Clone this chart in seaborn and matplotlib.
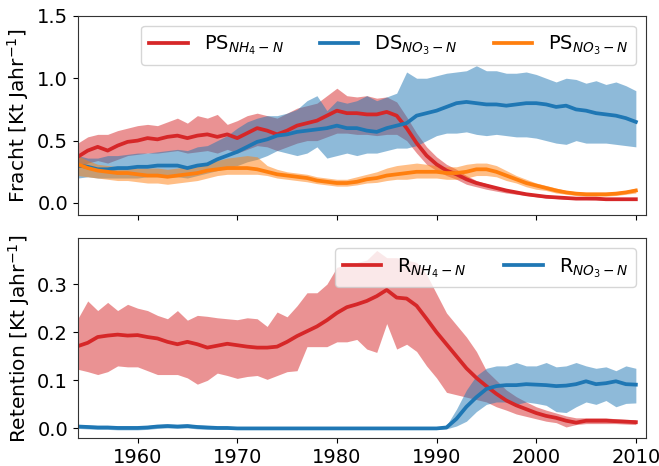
import numpy as np
import pandas as pd
import matplotlib
matplotlib.use("Agg")
import matplotlib.pyplot as plt
import seaborn as sns

years = list(range(1954, 2011))

# ---- top panel: Fracht ----
ps_nh4 = [0.37, 0.42, 0.45, 0.42, 0.46, 0.49, 0.50, 0.52, 0.51, 0.53,
          0.54, 0.52, 0.54, 0.55, 0.53, 0.55, 0.52, 0.56, 0.60, 0.58,
          0.55, 0.58, 0.62, 0.64, 0.66, 0.70, 0.74, 0.72, 0.72, 0.71,
          0.71, 0.73, 0.70, 0.60, 0.48, 0.38, 0.31, 0.26, 0.23, 0.19,
          0.16, 0.14, 0.12, 0.10, 0.085, 0.07, 0.06, 0.05, 0.045, 0.04,
          0.035, 0.035, 0.035, 0.03, 0.03, 0.03, 0.03]
ps_nh4_hi = [0.48, 0.53, 0.55, 0.55, 0.58, 0.60, 0.62, 0.63, 0.62, 0.65,
             0.68, 0.64, 0.70, 0.68, 0.71, 0.63, 0.66, 0.70, 0.72, 0.70,
             0.68, 0.72, 0.76, 0.78, 0.80, 0.86, 0.92, 0.86, 0.85, 0.86,
             0.84, 0.85, 0.81, 0.69, 0.56, 0.45, 0.37, 0.31, 0.27, 0.22,
             0.18, 0.155, 0.13, 0.11, 0.095, 0.08, 0.07, 0.06, 0.055, 0.05,
             0.045, 0.045, 0.045, 0.04, 0.04, 0.04, 0.04]
ps_nh4_lo = [0.28, 0.32, 0.34, 0.32, 0.35, 0.38, 0.39, 0.40, 0.40, 0.41,
             0.42, 0.40, 0.41, 0.42, 0.40, 0.43, 0.40, 0.43, 0.46, 0.45,
             0.42, 0.45, 0.48, 0.50, 0.50, 0.53, 0.56, 0.56, 0.55, 0.55,
             0.54, 0.55, 0.55, 0.50, 0.40, 0.31, 0.26, 0.22, 0.19, 0.15,
             0.13, 0.11, 0.095, 0.08, 0.07, 0.06, 0.05, 0.04, 0.035, 0.03,
             0.028, 0.028, 0.025, 0.022, 0.022, 0.022, 0.022]

ds_no3 = [0.30, 0.29, 0.27, 0.27, 0.28, 0.28, 0.29, 0.29, 0.30, 0.30,
          0.30, 0.28, 0.30, 0.31, 0.35, 0.38, 0.41, 0.45, 0.49, 0.51,
          0.54, 0.55, 0.57, 0.58, 0.59, 0.60, 0.62, 0.60, 0.60, 0.58,
          0.57, 0.60, 0.62, 0.64, 0.70, 0.72, 0.74, 0.77, 0.80, 0.81,
          0.80, 0.79, 0.79, 0.78, 0.79, 0.80, 0.80, 0.79, 0.77, 0.78,
          0.75, 0.74, 0.72, 0.71, 0.70, 0.68, 0.65]
ds_no3_hi = [0.38, 0.36, 0.36, 0.38, 0.38, 0.39, 0.40, 0.40, 0.41, 0.42,
             0.43, 0.42, 0.45, 0.46, 0.50, 0.54, 0.60, 0.65, 0.68, 0.70,
             0.70, 0.72, 0.75, 0.82, 0.86, 0.74, 0.82, 0.80, 0.82, 0.86,
             0.82, 0.85, 0.88, 1.05, 1.00, 1.00, 1.02, 1.04, 1.05, 1.06,
             1.10, 1.06, 1.06, 1.04, 1.04, 1.05, 1.03, 1.00, 0.97, 1.00,
             0.99, 0.96, 0.98, 0.95, 0.97, 0.94, 0.90]
ds_no3_lo = [0.20, 0.21, 0.20, 0.20, 0.20, 0.20, 0.20, 0.21, 0.21, 0.21,
             0.21, 0.20, 0.22, 0.24, 0.26, 0.28, 0.30, 0.33, 0.35, 0.38,
             0.42, 0.40, 0.38, 0.40, 0.45, 0.36, 0.38, 0.40, 0.38, 0.40,
             0.40, 0.42, 0.44, 0.44, 0.46, 0.50, 0.54, 0.56, 0.56, 0.57,
             0.55, 0.54, 0.55, 0.54, 0.53, 0.53, 0.52, 0.50, 0.48, 0.47,
             0.50, 0.48, 0.48, 0.48, 0.47, 0.46, 0.45]

ps_no3 = [0.31, 0.28, 0.26, 0.25, 0.24, 0.24, 0.23, 0.22, 0.22, 0.21,
          0.22, 0.23, 0.24, 0.26, 0.27, 0.28, 0.28, 0.28, 0.27, 0.25,
          0.23, 0.22, 0.21, 0.20, 0.18, 0.17, 0.16, 0.16, 0.17, 0.19,
          0.20, 0.22, 0.23, 0.24, 0.25, 0.25, 0.25, 0.24, 0.24, 0.25,
          0.27, 0.27, 0.25, 0.22, 0.19, 0.16, 0.14, 0.12, 0.10, 0.085,
          0.075, 0.07, 0.07, 0.07, 0.075, 0.085, 0.10]
ps_no3_hi = [0.38, 0.34, 0.31, 0.30, 0.29, 0.29, 0.28, 0.28, 0.28, 0.27,
             0.28, 0.29, 0.30, 0.32, 0.34, 0.36, 0.37, 0.38, 0.37, 0.30,
             0.27, 0.25, 0.24, 0.23, 0.21, 0.20, 0.19, 0.19, 0.21, 0.23,
             0.25, 0.28, 0.30, 0.31, 0.32, 0.31, 0.30, 0.29, 0.29, 0.31,
             0.32, 0.32, 0.30, 0.26, 0.22, 0.19, 0.16, 0.14, 0.12, 0.10,
             0.09, 0.085, 0.085, 0.085, 0.09, 0.10, 0.12]
ps_no3_lo = [0.22, 0.21, 0.20, 0.19, 0.18, 0.18, 0.17, 0.16, 0.16, 0.15,
             0.16, 0.17, 0.18, 0.20, 0.22, 0.23, 0.23, 0.23, 0.23, 0.22,
             0.20, 0.19, 0.18, 0.17, 0.155, 0.145, 0.135, 0.135, 0.145, 0.16,
             0.165, 0.18, 0.19, 0.19, 0.20, 0.20, 0.20, 0.19, 0.19, 0.20,
             0.22, 0.22, 0.21, 0.18, 0.16, 0.13, 0.11, 0.10, 0.08, 0.07,
             0.06, 0.055, 0.055, 0.055, 0.06, 0.07, 0.08]

# ---- bottom panel: Retention ----
r_nh4 = [0.171, 0.178, 0.190, 0.193, 0.195, 0.193, 0.194, 0.190, 0.187, 0.180,
         0.175, 0.180, 0.175, 0.168, 0.172, 0.176, 0.173, 0.170, 0.168, 0.168,
         0.170, 0.180, 0.192, 0.202, 0.212, 0.225, 0.240, 0.252, 0.258, 0.265,
         0.275, 0.288, 0.272, 0.270, 0.255, 0.228, 0.200, 0.175, 0.150, 0.125,
         0.105, 0.088, 0.072, 0.058, 0.048, 0.040, 0.032, 0.026, 0.022, 0.016,
         0.012, 0.016, 0.016, 0.016, 0.015, 0.014, 0.013]
r_nh4_hi = [0.228, 0.265, 0.245, 0.262, 0.245, 0.258, 0.250, 0.245, 0.235, 0.228,
            0.245, 0.225, 0.235, 0.233, 0.230, 0.228, 0.226, 0.230, 0.228, 0.212,
            0.242, 0.232, 0.255, 0.282, 0.282, 0.300, 0.335, 0.340, 0.345, 0.350,
            0.370, 0.355, 0.355, 0.350, 0.345, 0.320, 0.280, 0.240, 0.215, 0.190,
            0.160, 0.120, 0.100, 0.080, 0.066, 0.055, 0.045, 0.038, 0.032, 0.026,
            0.022, 0.022, 0.022, 0.022, 0.020, 0.019, 0.018]
r_nh4_lo = [0.123, 0.118, 0.112, 0.118, 0.130, 0.128, 0.128, 0.120, 0.112, 0.112,
            0.112, 0.105, 0.092, 0.100, 0.115, 0.110, 0.104, 0.108, 0.110, 0.102,
            0.110, 0.118, 0.120, 0.170, 0.170, 0.170, 0.180, 0.180, 0.185, 0.165,
            0.158, 0.218, 0.165, 0.175, 0.160, 0.130, 0.105, 0.075, 0.070, 0.065,
            0.060, 0.055, 0.045, 0.038, 0.030, 0.025, 0.020, 0.015, 0.012, 0.003,
            0.008, 0.010, 0.010, 0.010, 0.010, 0.009, 0.008]

r_no3 = [0.004, 0.003, 0.002, 0.002, 0.001, 0.001, 0.001, 0.002, 0.004, 0.005,
         0.004, 0.005, 0.003, 0.002, 0.001, 0.001, 0.000, 0.000, 0.000, 0.000,
         0.000, 0.000, 0.000, 0.000, 0.000, 0.000, 0.000, 0.000, 0.000, 0.000,
         0.000, 0.000, 0.000, 0.000, 0.000, 0.000, 0.000, 0.002, 0.020, 0.045,
         0.065, 0.082, 0.088, 0.090, 0.090, 0.092, 0.091, 0.090, 0.088, 0.089,
         0.092, 0.098, 0.092, 0.094, 0.098, 0.092, 0.091]
r_no3_hi = [0.008, 0.007, 0.006, 0.006, 0.005, 0.005, 0.005, 0.006, 0.008, 0.009,
            0.008, 0.009, 0.007, 0.006, 0.004, 0.003, 0.002, 0.002, 0.002, 0.002,
            0.002, 0.002, 0.002, 0.002, 0.002, 0.002, 0.002, 0.002, 0.002, 0.002,
            0.002, 0.002, 0.002, 0.002, 0.002, 0.002, 0.002, 0.006, 0.040, 0.080,
            0.110, 0.125, 0.130, 0.130, 0.137, 0.130, 0.130, 0.137, 0.128, 0.130,
            0.137, 0.130, 0.125, 0.128, 0.120, 0.130, 0.125]
r_no3_lo = [0.000, -0.001, -0.002, -0.002, -0.003, -0.003, -0.003, -0.002, 0.000, 0.001,
            0.000, 0.001, -0.001, -0.002, -0.002, -0.002, -0.002, -0.002, -0.002, -0.002,
            -0.002, -0.002, -0.002, -0.002, -0.002, -0.002, -0.002, -0.002, -0.002, -0.002,
            -0.002, -0.002, -0.002, -0.002, -0.002, -0.002, -0.002, -0.001, 0.005, 0.015,
            0.035, 0.050, 0.055, 0.055, 0.050, 0.055, 0.052, 0.048, 0.035, 0.033,
            0.045, 0.055, 0.050, 0.058, 0.045, 0.052, 0.053]

red, blue, orange = "#d62728", "#1f77b4", "#ff7f0e"
FS = 14

plt.rcParams.update({"font.size": FS, "font.family": ["DejaVu Sans"]})

fig, (ax1, ax2) = plt.subplots(2, 1, sharex=True, figsize=(6.59, 4.66), dpi=100)
fig.subplots_adjust(left=0.118, right=0.980, top=0.966, bottom=0.060, hspace=0.115)

top_series = [
    (r"PS$_{NH_4-N}$", ps_nh4, ps_nh4_lo, ps_nh4_hi, red),
    (r"DS$_{NO_3-N}$", ds_no3, ds_no3_lo, ds_no3_hi, blue),
    (r"PS$_{NO_3-N}$", ps_no3, ps_no3_lo, ps_no3_hi, orange),
]
bot_series = [
    (r"R$_{NH_4-N}$", r_nh4, r_nh4_lo, r_nh4_hi, red),
    (r"R$_{NO_3-N}$", r_no3, r_no3_lo, r_no3_hi, blue),
]

for ax, series in ((ax1, top_series), (ax2, bot_series)):
    for label, mean, lo, hi, col in series:
        ax.fill_between(years, lo, hi, color=col, alpha=0.5, linewidth=0)
    for label, mean, lo, hi, col in series:
        df = pd.DataFrame({"Jahr": years, "Wert": mean})
        sns.lineplot(data=df, x="Jahr", y="Wert", color=col, linewidth=2.7,
                     label=label, ax=ax)

ax1.set_ylim(-0.1, 1.5)
ax1.set_yticks([0.0, 0.5, 1.0, 1.5])
ax2.set_ylim(-0.02, 0.395)
ax2.set_yticks([0.0, 0.1, 0.2, 0.3])
ax2.set_xlim(1954, 2011)
ax2.set_xticks([1960, 1970, 1980, 1990, 2000, 2010])

ax1.set_ylabel(r"Fracht [Kt Jahr$^{-1}$]", fontsize=14.5)
ax2.set_ylabel(r"Retention [Kt Jahr$^{-1}$]", fontsize=14.5)
ax1.set_xlabel("")
ax2.set_xlabel("")

for ax in (ax1, ax2):
    ax.tick_params(labelsize=FS)
    for s in ax.spines.values():
        s.set_edgecolor("#333333")

ax1.legend(loc="upper right", ncol=3, fontsize=FS, columnspacing=1.85)
ax2.legend(loc="upper right", ncol=2, fontsize=FS, columnspacing=1.95)

fig.savefig("out.png", dpi=100)
